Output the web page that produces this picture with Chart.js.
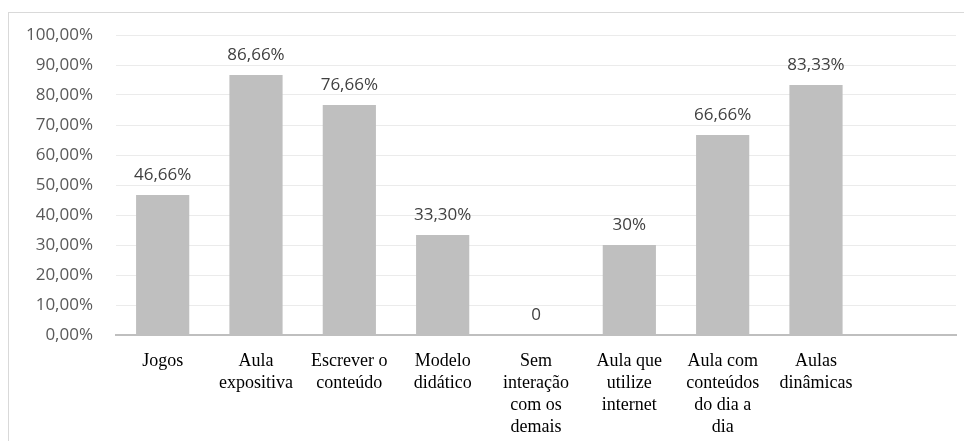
<!DOCTYPE html>
<html>
<head>
<meta charset="utf-8">
<script src="https://cdn.jsdelivr.net/npm/chart.js@4"></script>
<style>
  body { margin: 0; background: #fff; }
  #frame { position: absolute; left: 8px; top: 12px; width: 980px; height: 460px; border: 1px solid #d9d9d9; }
  #wrap { position: absolute; left: 0; top: 0; width: 964px; height: 441px; }
</style>
</head>
<body>
<div id="frame"></div>
<div id="wrap"><canvas id="chart"></canvas></div>
<script>
var categories = [
  ["Jogos"],
  ["Aula", "expositiva"],
  ["Escrever o", "conteúdo"],
  ["Modelo", "didático"],
  ["Sem", "interação", "com os", "demais"],
  ["Aula que", "utilize", "internet"],
  ["Aula com", "conteúdos", "do dia a", "dia"],
  ["Aulas", "dinâmicas"],
  [""]
];
var values = [46.66, 86.66, 76.66, 33.30, 0, 30, 66.66, 83.33, null];
var valueLabels = ["46,66%", "86,66%", "76,66%", "33,30%", "0", "30%", "66,66%", "83,33%", ""];

var barLabels = {
  id: "barLabels",
  afterDatasetsDraw: function(chart) {
    var ctx = chart.ctx;
    var meta = chart.getDatasetMeta(0);
    ctx.save();
    ctx.font = "17px 'Open Sans'";
    ctx.fillStyle = "#404040";
    ctx.textAlign = "center";
    ctx.textBaseline = "middle";
    meta.data.forEach(function(bar, i) {
      if (!valueLabels[i]) return;
      ctx.fillText(valueLabels[i], bar.x, bar.y - 20);
    });
    ctx.restore();
  }
};

window.addEventListener("load", function() {
  window.chart = new Chart(document.getElementById("chart").getContext("2d"), {
    type: "bar",
    data: {
      labels: categories,
      datasets: [{
        data: values,
        backgroundColor: "#bfbfbf",
        categoryPercentage: 1,
        barPercentage: 0.57
      }]
    },
    options: {
      responsive: true,
      maintainAspectRatio: false,
      animation: false,
      layout: { padding: { top: 35, right: 8, left: 0, bottom: 0 } },
      plugins: { legend: { display: false }, tooltip: { enabled: false } },
      scales: {
        x: {
          grid: { display: false, drawTicks: false },
          border: { color: "#bfbfbf", width: 2 },
          ticks: {
            autoSkip: false, maxRotation: 0, padding: 15,
            color: "#000",
            font: { family: "'Liberation Serif'", size: 18, lineHeight: 1.22 }
          },
          afterFit: function(scale) { scale.height = 106; }
        },
        y: {
          min: 0, max: 100,
          grid: { color: "#ebebeb", drawTicks: false },
          border: { display: false },
          ticks: {
            stepSize: 10, padding: 23, color: "#595959",
            font: { family: "'Open Sans'", size: 17 },
            callback: function(v) { return v.toFixed(2).replace(".", ",") + "%"; }
          },
          afterFit: function(scale) { scale.width = 116; }
        }
      }
    },
    plugins: [barLabels]
  });
});
</script>
</body>
</html>
